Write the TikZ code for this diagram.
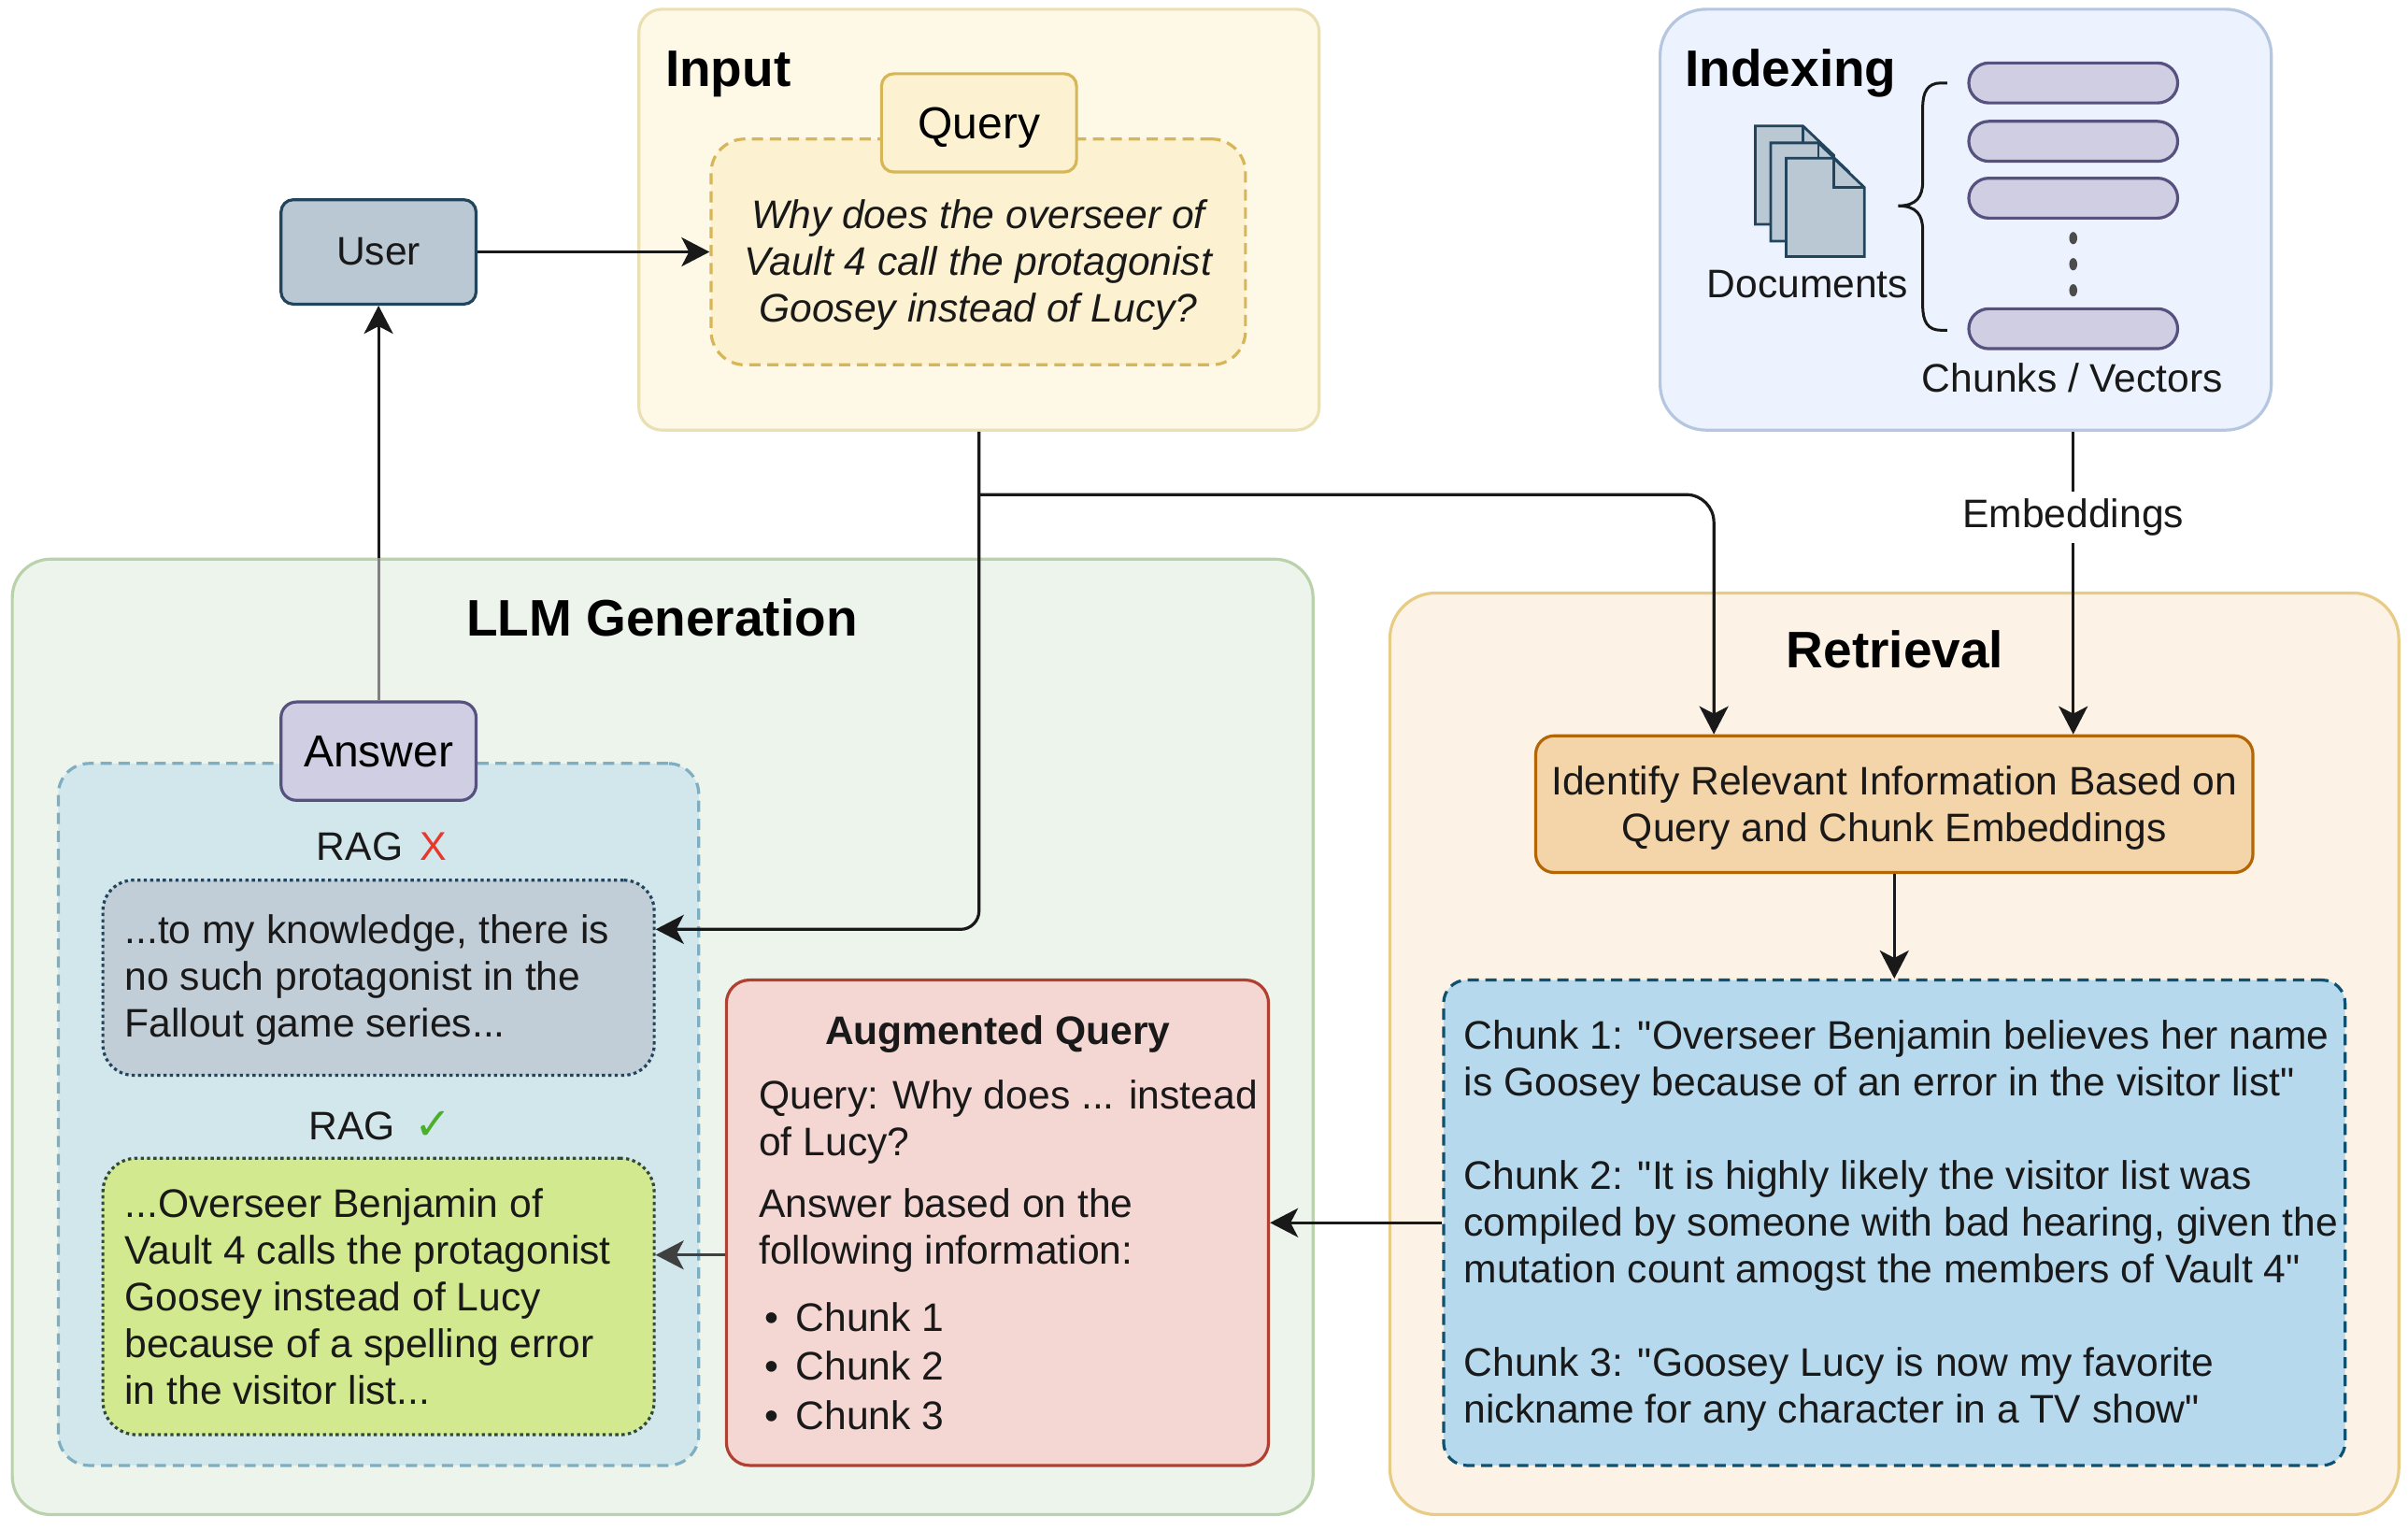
\documentclass[tikz,border=0pt]{standalone}
\usepackage{fontspec}
\setmainfont{Liberation Sans}[Ligatures=TeXOff]
\newfontfamily\symfont{DejaVu Sans}
\usetikzlibrary{arrows.meta}
\newcommand{\dd}{0.8217pt}
\definecolor{inputfill}{HTML}{FEF8E7}
\definecolor{inputline}{HTML}{EBE0B4}
\definecolor{queryfill}{HTML}{FCF1D0}
\definecolor{queryline}{HTML}{D6B656}
\definecolor{indexfill}{HTML}{EDF3FE}
\definecolor{indexline}{HTML}{B5C7E0}
\definecolor{llmfill}{HTML}{EDF4EB}
\definecolor{llmline}{HTML}{BAD2AC}
\definecolor{retrfill}{HTML}{FCF2E5}
\definecolor{retrline}{HTML}{E8CC85}
\definecolor{ragfill}{HTML}{D2E7EC}
\definecolor{ragline}{HTML}{7FAEC3}
\definecolor{slatefill}{HTML}{BAC8D3}
\definecolor{slateline}{HTML}{23445D}
\definecolor{greenfill}{HTML}{D3E98F}
\definecolor{greenline}{HTML}{2F4A3A}
\definecolor{augfill}{HTML}{F4D6D2}
\definecolor{augline}{HTML}{AE4132}
\definecolor{identfill}{HTML}{F4D4A9}
\definecolor{identline}{HTML}{B46504}
\definecolor{chunkfill}{HTML}{B7D9ED}
\definecolor{chunkline}{HTML}{10516F}
\definecolor{purplefill}{HTML}{D0CEE2}
\definecolor{purpleline}{HTML}{56517E}
\tikzset{
    body/.style={
        font=\fontsize{21.3}{25}\selectfont,
        text=black!90
    },
    flush/.style={
        body,
        anchor=west,
        align=left,
        inner sep=0pt
    },
    title/.style={
        font=\fontsize{27.5}{32}\selectfont\bfseries,
        inner sep=0pt
    },
    tag/.style={
        font=\fontsize{24}{28}\selectfont,
        text height=22pt,
        text depth=5pt
    },
    size/.style 2 args={
        minimum width=#1*\dd,
        minimum height=#2*\dd,
        inner sep=0pt
    },
    box/.style n args={3}{
        draw=#2,
        fill=#1,
        line width=1.6pt,
        rounded corners=#3*\dd
    },
    dashline/.style={
        dash pattern=on 6pt off 3.6pt
    },
    dotline/.style={
        dash pattern=on 1.7pt off 1.7pt
    },
    arrow/.style={
        line width=1.6pt,
        draw=black!90,
        -{Stealth[length=15pt, width=15.5pt, inset=4pt]}
    }
}
\newcommand{\docpage}[2]{
    \draw [fill=slatefill, draw=slateline, line width=1.4pt]
        (#1, #2) -- ({#1 + 31}, #2) -- ({#1 + 51}, {#2 + 19}) --
        ({#1 + 51}, {#2 + 64}) -- (#1, {#2 + 64}) -- cycle;
    \draw [draw=slateline, line width=1.4pt]
        ({#1 + 31}, #2) -- ({#1 + 31}, {#2 + 19}) -- ({#1 + 51}, {#2 + 19});
}
\newcommand{\ragmark}[2]{{\fontsize{21.5}{25}\selectfont\color[HTML]{#1}#2}}
\newcommand{\chunkitem}[1]{\makebox[19.7pt][l]{\hspace{3pt}•}Chunk #1}

\begin{document}
\begin{tikzpicture}[x=\dd, y=-\dd]
    \useasboundingbox (0, 0) rectangle (1568, 996);

    % panels
    \node [box={inputfill}{inputline}{15}, size={443}{274}] (input) at (637.5, 143) {};
    \node [box={indexfill}{indexline}{30}, size={398}{274}] (indexing) at (1280, 143) {};
    \node [box={llmfill}{llmline}{25}, size={847}{622}] (llm) at (431.5, 675) {};
    \node [box={retrfill}{retrline}{30}, size={657}{600}] (retrieval) at (1233.5, 686) {};

    \node [title, anchor=west] (inputtitle) at (433, 48) {Input};
    \node [title, anchor=west] (indextitle) at (1097, 48) {Indexing};
    \node [title] (llmtitle) at (431, 402) {LLM Generation};
    \node [title] (retrtitle) at (1234, 423) {Retrieval};

    % input
    \node [box={queryfill}{queryline}{22}, dashline, size={348}{147}, body, align=center, font=\fontsize{21.3}{25}\selectfont\itshape] (question) at (637, 164)
        {\\[4.3pt]Why does the overseer of\\Vault 4 call the protagonist\\Goosey instead of Lucy?};
    \node [box={queryfill}{queryline}{8}, size={127}{64}, tag] (query) at (637.5, 80) {Query};

    \node [box={slatefill}{slateline}{8}, size={127}{68}, body] (user) at (246.5, 164) {User};

    % indexing
    \foreach \x/\y in {1143/82, 1153/93, 1163/103} {
        \docpage{\x}{\y}
    }
    \node [body] (documents) at (1177, 185) {Documents};
    \foreach \name/\y in {barone/54, bartwo/92, barthree/129, barlast/214} {
        \node [box={purplefill}{purpleline}{13}, size={136}{26}] (\name) at (1350, \y) {};
    }
    \foreach \y in {155, 172, 189} {
        \fill [black!70] (1350, \y) ellipse (2.6 and 4);
    }
    \draw [line width=1.5pt, draw=black!90]
        (1268, 54) -- (1264, 54) .. controls (1255, 54) and (1252, 60) .. (1252, 70)
        -- (1252, 118) .. controls (1252, 128) and (1248, 134) .. (1236, 134)
        .. controls (1248, 134) and (1252, 140) .. (1252, 150)
        -- (1252, 199) .. controls (1252, 209) and (1255, 215) .. (1264, 215) -- (1268, 215);
    \node [body] (chunkslabel) at (1349.5, 246) {Chunks / Vectors};

    % generation
    \node [box={ragfill}{ragline}{20}, dashline, size={417}{457}] (rag) at (246.5, 725.5) {};
    \node [box={purplefill}{purpleline}{10}, size={127}{64}, tag] (answer) at (246.5, 489) {Answer};
    \node [flush] (ragbad) at (206, 551) {RAG\hspace{9pt}\ragmark{E8382C}{X}};
    \node [flush] (raggood) at (201, 733) {RAG\hspace{10pt}{\symfont\fontsize{24}{25}\selectfont\color[HTML]{4CAF2C}✓}};

    \node [box={slatefill!90!white}{slateline}{20}, dotline, size={359}{127}] (wrong) at (246.5, 636.5) {};
    \node [flush] (wrongtext) at (81, 638)
        {...to my knowledge, there is\\no such protagonist in the\\Fallout game series...};
    \node [box={greenfill}{greenline}{22}, dotline, size={359}{180}] (right) at (246.5, 844) {};
    \node [flush] (righttext) at (81, 844)
        {...Overseer Benjamin of\\Vault 4 calls the protagonist\\Goosey instead of Lucy\\because of a spelling error\\in the visitor list...};

    \node [box={augfill}{augline}{15}, size={353}{316}] (aug) at (649.5, 796) {};
    \node [flush] (augtext) at (494, 796)
        {\makebox[255.5pt][c]{\bfseries Augmented Query}\\[9.5pt]
         Query: Why does ... instead\\of Lucy?\\[8pt]
         Answer based on the\\following information:\\[11pt]
         \chunkitem{1}\\[1.3pt]
         \chunkitem{2}\\[1.3pt]
         \chunkitem{3}};

    % retrieval
    \node [box={identfill}{identline}{12}, size={467}{89}, body, align=center] (identify) at (1233.5, 523.5)
        {\rule{0pt}{20pt}Identify Relevant Information Based on\\Query and Chunk Embeddings};
    \node [box={chunkfill}{chunkline}{15}, dashline, size={587}{316}] (chunks) at (1233.5, 796) {};
    \node [flush] (chunkstext) at (953, 798)
        {Chunk 1: "Overseer Benjamin believes her name\\is Goosey because of an error in the visitor list"\\[25pt]
         Chunk 2: "It is highly likely the visitor list was\\compiled by someone with bad hearing, given the\\mutation count amogst the members of Vault 4"\\[25pt]
         Chunk 3: "Goosey Lucy is now my favorite\\nickname for any character in a TV show"};

    % connectors
    \coordinate (branch) at (input.south |- 0, 322);
    \coordinate (wrongin) at (wrong.east |- 0, 605);
    \coordinate (identq) at (1116, 0 |- identify.north);
    \coordinate (identv) at (1350, 0 |- identify.north);
    \coordinate (indexout) at (1350, 0 |- indexing.south);
    \coordinate (augout) at (aug.west |- 0, 817);
    \coordinate (rightin) at (right.east |- 0, 817);
    \coordinate (chunkout) at (chunks.west |- 0, 796);
    \coordinate (augin) at (aug.east |- 0, 796);

    \draw [arrow] (user.east) -- (question.west);
    \draw [arrow] (answer.north) -- (user.south);
    \draw [line width=1.6pt, draw=black!50] (answer.north) -- (answer.north |- llm.north);
    \draw [arrow, rounded corners=12*\dd] (input.south) |- (wrongin);
    \draw [arrow, rounded corners=18*\dd] (branch) -| (identq);
    \draw [arrow] (indexout) -- node [body, pos=0.283, fill=white, inner xsep=2pt, inner ysep=4pt] (embed) {Embeddings} (identv);
    \draw [arrow] (identify.south) -- (chunks.north);
    \draw [arrow] (chunkout) -- (augin);
    \draw [arrow, draw=black!75] (augout) -- (rightin);
\end{tikzpicture}
\end{document}
